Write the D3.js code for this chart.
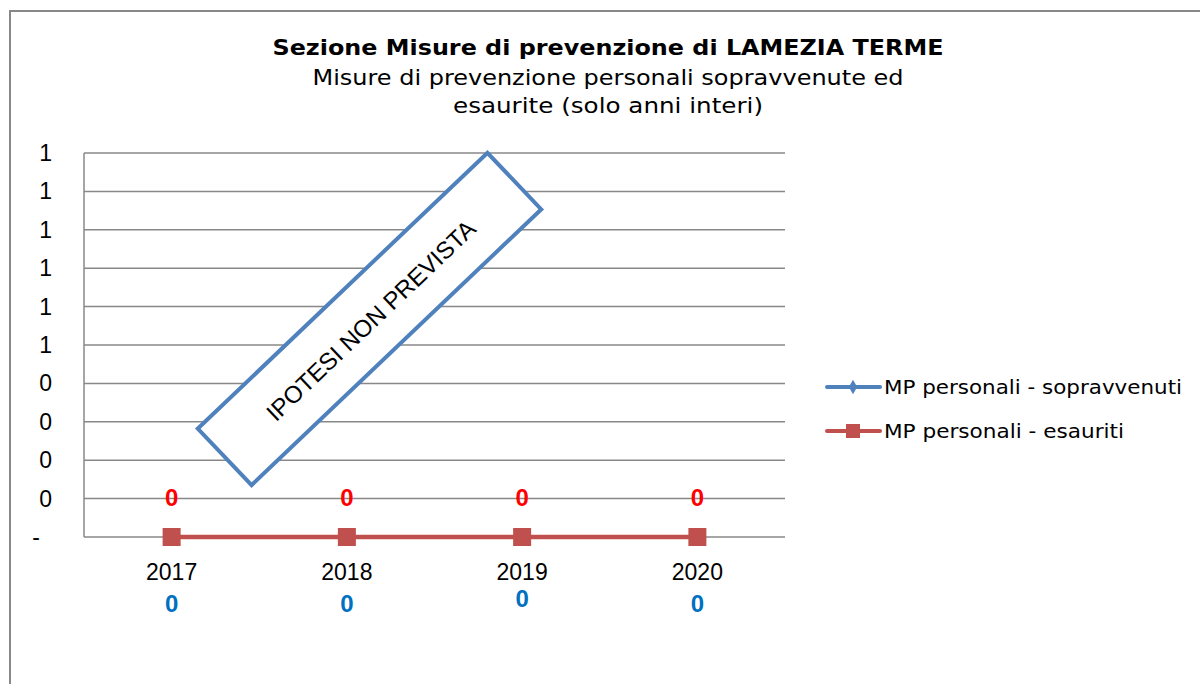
<!DOCTYPE html>
<head>
    <meta charset="utf-8">
    <style>
        body {
            margin: 0;
            padding: 0;
            background: #fff;
        }
        svg {
            display: block;
        }
        .title {
            font-family: "DejaVu Sans", Verdana, sans-serif;
            text-anchor: middle;
            fill: #000;
        }
        .tick-label {
            font-family: "Liberation Sans", Arial, sans-serif;
            font-size: 23px;
            fill: #000;
        }
        .legend text {
            font-family: "DejaVu Sans", Verdana, sans-serif;
            font-size: 20px;
            fill: #000;
        }
    </style>
    <script src="https://d3js.org/d3.v7.min.js"></script>
</head>
<body>
    <svg width="1200" height="684"></svg>
    <script>
        // data
        var years = ["2017", "2018", "2019", "2020"];
        var sopravvenuti = [0, 0, 0, 0];
        var esauriti = [0, 0, 0, 0];
        var yTicks = [0, 0.1, 0.2, 0.3, 0.4, 0.5, 0.6, 0.7, 0.8, 0.9, 1];
        var yTickLabels = ["-", "0", "0", "0", "0", "1", "1", "1", "1", "1", "1"];
        var seriesNames = ["MP personali - sopravvenuti", "MP personali - esauriti"];

        var svg = d3.select("svg");

        // outer frame
        svg.append("rect")
            .attr("x", 10).attr("y", 11)
            .attr("width", 1200).attr("height", 700)
            .attr("fill", "none")
            .attr("stroke", "#888")
            .attr("stroke-width", 2);

        // titles (widths matched to the original)
        var titles = [
            { text: "Sezione Misure di prevenzione di LAMEZIA TERME", y: 47, w: 671, bold: true },
            { text: "Misure di prevenzione personali sopravvenute ed", y: 77, w: 591, bold: false },
            { text: "esaurite (solo anni interi)", y: 105, w: 310, bold: false }
        ];
        titles.forEach(function (t) {
            svg.append("text").attr("class", "title")
                .attr("x", 608).attr("y", t.y)
                .attr("dy", "0.35em")
                .attr("textLength", t.w)
                .attr("lengthAdjust", "spacingAndGlyphs")
                .style("font-size", "22px")
                .style("font-weight", t.bold ? "bold" : "normal")
                .text(t.text);
        });

        // scales
        var x = d3.scalePoint()
            .domain(years)
            .range([84, 785])
            .padding(0.5);
        var y = d3.scaleLinear()
            .domain([0, 1])
            .range([537, 153]);

        // gridlines
        svg.append("g")
            .selectAll("line")
            .data(yTicks)
            .enter().append("line")
                .attr("x1", 84).attr("x2", 785)
                .attr("y1", function (d) { return y(d); })
                .attr("y2", function (d) { return y(d); })
                .attr("stroke", "#888")
                .attr("stroke-width", 1.5);
        svg.append("line")
            .attr("x1", 84).attr("x2", 84)
            .attr("y1", y(1)).attr("y2", y(0))
            .attr("stroke", "#888")
            .attr("stroke-width", 1.5);

        // y tick labels
        svg.append("g")
            .selectAll("text")
            .data(yTicks)
            .enter().append("text")
                .attr("class", "tick-label")
                .attr("x", function (d, i) { return yTickLabels[i] === "-" ? 40 : 52; })
                .attr("y", function (d) { return y(d); })
                .attr("dy", "0.35em")
                .attr("text-anchor", "end")
                .text(function (d, i) { return yTickLabels[i]; });

        // x labels
        svg.append("g")
            .selectAll("text")
            .data(years)
            .enter().append("text")
                .attr("class", "tick-label")
                .attr("x", function (d) { return x(d); })
                .attr("y", 572)
                .attr("dy", "0.35em")
                .attr("text-anchor", "middle")
                .text(function (d) { return d; });

        // lines
        var line = d3.line()
            .x(function (d, i) { return x(years[i]); })
            .y(function (d) { return y(d); });

        svg.append("path")
            .datum(sopravvenuti)
            .attr("d", line)
            .attr("fill", "none")
            .attr("stroke", "#4F81BD")
            .attr("stroke-width", 4);

        svg.append("path")
            .datum(esauriti)
            .attr("d", line)
            .attr("fill", "none")
            .attr("stroke", "#C0504D")
            .attr("stroke-width", 4.5);
        svg.append("g")
            .selectAll("rect")
            .data(esauriti)
            .enter().append("rect")
                .attr("x", function (d, i) { return x(years[i]) - 9; })
                .attr("y", function (d) { return y(d) - 9; })
                .attr("width", 18).attr("height", 18)
                .attr("fill", "#C0504D");

        // data labels
        svg.append("g")
            .selectAll("text")
            .data(esauriti)
            .enter().append("text")
                .attr("x", function (d, i) { return x(years[i]); })
                .attr("y", function (d) { return y(d) - 39; })
                .attr("dy", "0.35em")
                .attr("text-anchor", "middle")
                .style("font-family", "'Liberation Sans', Arial, sans-serif")
                .style("font-size", "24px")
                .style("font-weight", "bold")
                .attr("fill", "#FF0000")
                .text(function (d) { return d; });
        svg.append("g")
            .selectAll("text")
            .data(sopravvenuti)
            .enter().append("text")
                .attr("x", function (d, i) { return x(years[i]); })
                .attr("y", function (d, i) { return y(d) + (i === 2 ? 62 : 67); })
                .attr("dy", "0.35em")
                .attr("text-anchor", "middle")
                .style("font-family", "'Liberation Sans', Arial, sans-serif")
                .style("font-size", "24px")
                .style("font-weight", "bold")
                .attr("fill", "#0070C0")
                .text(function (d) { return d; });

        // "IPOTESI NON PREVISTA" box
        var box = svg.append("g")
            .attr("transform", "translate(369.5,319) rotate(-43.6)");
        box.append("rect")
            .attr("x", -200).attr("y", -39)
            .attr("width", 400).attr("height", 78)
            .attr("fill", "#fff")
            .attr("stroke", "#4F81BD")
            .attr("stroke-width", 4);
        box.append("text")
            .attr("x", 0).attr("y", 2)
            .attr("dy", "0.35em")
            .attr("text-anchor", "middle")
            .style("font-family", "'Liberation Sans', Arial, sans-serif")
            .style("font-size", "24px")
            .attr("fill", "#000")
            .text("IPOTESI NON PREVISTA");

        // legend
        var legend = svg.append("g").attr("class", "legend");
        var colors = ["#4F81BD", "#C0504D"];
        var legendWidths = [298, 240];
        seriesNames.forEach(function (name, i) {
            var gy = 387 + i * 44;
            legend.append("line")
                .attr("x1", 827).attr("x2", 880)
                .attr("y1", gy).attr("y2", gy)
                .attr("stroke", colors[i])
                .attr("stroke-width", 4)
                .attr("stroke-linecap", "round");
            if (i === 0) {
                legend.append("path")
                    .attr("d", d3.symbol().type(d3.symbolDiamond).size(60))
                    .attr("transform", "translate(853," + gy + ")")
                    .attr("fill", colors[i]);
            } else {
                legend.append("rect")
                    .attr("x", 846).attr("y", gy - 7)
                    .attr("width", 14).attr("height", 14)
                    .attr("fill", colors[i]);
            }
            legend.append("text")
                .attr("x", 884).attr("y", gy)
                .attr("dy", "0.35em")
                .attr("textLength", legendWidths[i])
                .attr("lengthAdjust", "spacingAndGlyphs")
                .text(name);
        });
    </script>
</body>
</html>
